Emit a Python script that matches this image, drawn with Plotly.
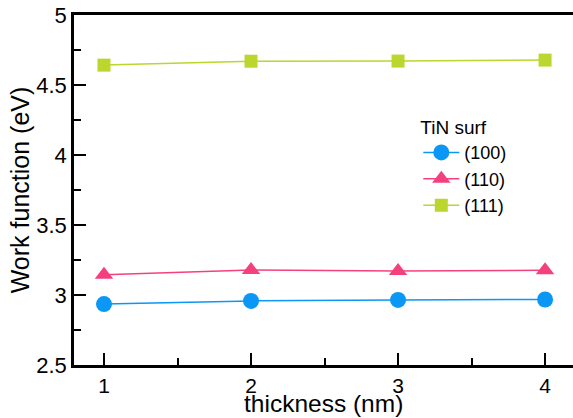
import plotly.graph_objects as go

thickness = [1, 2, 3, 4]
wf_100 = [2.935, 2.958, 2.965, 2.968]
wf_110 = [3.145, 3.178, 3.172, 3.176]
wf_111 = [4.642, 4.670, 4.671, 4.678]

series = [
    ("(100)", wf_100, "#0A97F5", "circle", 16),
    ("(110)", wf_110, "#F5407F", "triangle-up", 16),
    ("(111)", wf_111, "#BCD62D", "square", 13),
]

fig = go.Figure()
for name, vals, col, sym, sz in series:
    fig.add_trace(go.Scatter(
        x=thickness, y=vals, name=name, mode="lines+markers",
        line=dict(color=col, width=1.5),
        marker=dict(symbol=sym, size=sz, color=col),
    ))

font_fam = "Liberation Sans, Arial, sans-serif"
fig.update_layout(
    width=573, height=418,
    margin=dict(l=74, r=0, t=15, b=53, autoexpand=False),
    plot_bgcolor="white", paper_bgcolor="white",
    font=dict(family=font_fam, color="black"),
    showlegend=True,
    legend=dict(
        title=dict(text="TiN surf", font=dict(size=19)),
        font=dict(size=18),
        x=0.69, y=0.73, xanchor="left", yanchor="top",
        itemwidth=36,
        bgcolor="rgba(0,0,0,0)", tracegroupgap=0,
    ),
    annotations=[dict(
        text="thickness (nm)", xref="paper", yref="paper",
        x=0.501, y=-0.111, xanchor="center", yanchor="middle",
        showarrow=False, font=dict(size=24.5),
    )],
)
fig.update_xaxes(
    range=[0.796, 4.19], tickvals=[1, 2, 3, 4],
    showline=True, linecolor="black", linewidth=2.5, mirror=True,
    ticks="inside", ticklen=12, tickwidth=2, tickcolor="black",
    minor=dict(ticks="inside", ticklen=7, tickwidth=2, tickcolor="black", dtick=0.5),
    showgrid=False, zeroline=False, automargin=False,
    tickfont=dict(size=21),
)
fig.update_yaxes(
    range=[2.5, 5], tickvals=[2.5, 3, 3.5, 4, 4.5, 5],
    ticktext=["2.5", "3", "3.5", "4", "4.5", "5"],
    showline=True, linecolor="black", linewidth=2.5,
    ticks="inside", ticklen=12, tickwidth=2, tickcolor="black",
    minor=dict(ticks="inside", ticklen=7, tickwidth=2, tickcolor="black", dtick=0.25),
    showgrid=False, zeroline=False, automargin=False,
    tickfont=dict(size=22),
    title=dict(text="Work function (eV)", font=dict(size=25), standoff=0),
)
fig.write_html("out.html", config={"displayModeBar": False},
               post_script="document.body.style.margin='0';")
